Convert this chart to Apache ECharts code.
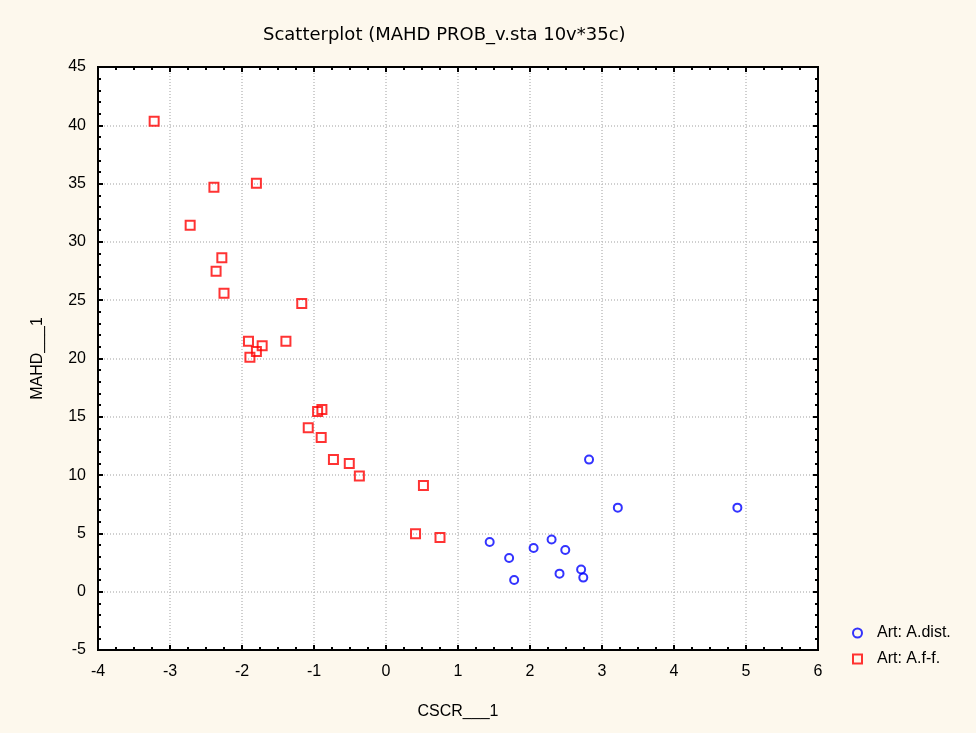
<!DOCTYPE html>
<html>
<head>
<meta charset="utf-8">
<script src="https://cdn.jsdelivr.net/npm/echarts@6/dist/echarts.min.js"></script>
<style>
  html, body { margin: 0; padding: 0; background: #fdf8ed; }
  #chart { width: 976px; height: 733px; }
</style>
</head>
<body>
<div id="chart"></div>
<script>
// Art: A.dist. (blue circles)  [CSCR___1, MAHD___1]
const distPoints = [
  [2.82, 11.33], [3.22, 7.21], [4.88, 7.21], [1.44, 4.26],
  [1.71, 2.89], [1.78, 1.00], [2.05, 3.75], [2.30, 4.47],
  [2.49, 3.58], [2.41, 1.55], [2.71, 1.90], [2.74, 1.21]
];

// Art: A.f-f. (red squares)
const ffPoints = [
  [-3.22, 40.34], [-2.39, 34.68], [-1.80, 35.03], [-2.72, 31.42],
  [-2.28, 28.65], [-2.36, 27.48], [-2.25, 25.59], [-1.17, 24.71],
  [-1.91, 21.48], [-1.72, 21.10], [-1.39, 21.48], [-1.80, 20.59],
  [-1.89, 20.10], [-0.89, 15.62], [-0.95, 15.45], [-1.08, 14.07],
  [-0.90, 13.22], [-0.73, 11.33], [-0.51, 10.99], [-0.37, 9.92],
  [0.52, 9.10], [0.41, 4.98], [0.75, 4.64]
];

const xRange = [-4, 6];
const yRange = [-5, 45];

const chart = echarts.init(document.getElementById('chart'));

const labelFont = { color: '#000', fontFamily: 'Liberation Sans', fontSize: 16 };

function frameAxis(pos, range, interval, split) {
  return {
    type: 'value',
    position: pos,
    min: range[0],
    max: range[1],
    interval: interval,
    axisLine: { show: true, onZero: false, lineStyle: { color: '#000', width: 2 } },
    axisTick: { show: true, inside: true, length: 5, lineStyle: { color: '#000', width: 2 } },
    minorTick: { show: true, splitNumber: split, length: 3, lineStyle: { color: '#000', width: 2 } },
    axisLabel: { show: false },
    splitLine: { show: false }
  };
}

let options = {
  backgroundColor: '#fdf8ed',
  animation: false,
  title: {
    text: 'Scatterplot (MAHD PROB_v.sta 10v*35c)',
    left: 258,
    top: 21,
    textStyle: { color: '#000', fontFamily: 'DejaVu Sans', fontSize: 18, fontWeight: 'normal' }
  },
  grid: {
    left: 98, top: 67, right: 158, bottom: 83,
    show: true,
    backgroundColor: '#fff',
    borderColor: '#000',
    borderWidth: 2
  },
  legend: {
    orient: 'vertical',
    left: 847,
    top: 620,
    itemWidth: 9,
    itemHeight: 9,
    itemGap: 10,
    textStyle: { color: '#000', fontFamily: 'Liberation Sans', fontSize: 16, padding: [0, 0, 0, 10] },
    data: ['Art: A.dist.', 'Art: A.f-f.']
  },
  xAxis: [
    {
      type: 'value',
      min: xRange[0],
      max: xRange[1],
      interval: 1,
      name: 'CSCR___1',
      nameLocation: 'middle',
      nameGap: 54,
      nameTextStyle: labelFont,
      axisLine: { show: true, onZero: false, lineStyle: { color: '#000', width: 2 } },
      axisTick: { show: true, inside: true, length: 5, lineStyle: { color: '#000', width: 2 } },
      minorTick: { show: true, splitNumber: 4, length: 3, lineStyle: { color: '#000', width: 2 } },
      axisLabel: Object.assign({ margin: 14 }, labelFont),
      splitLine: { show: true, lineStyle: { color: '#c0c0c0', type: [1, 2], width: 1.5 } }
    },
    frameAxis('top', xRange, 1, 4)
  ],
  yAxis: [
    {
      type: 'value',
      min: yRange[0],
      max: yRange[1],
      interval: 5,
      name: 'MAHD___1',
      nameLocation: 'middle',
      nameGap: 52,
      nameTextStyle: labelFont,
      axisLine: { show: true, onZero: false, lineStyle: { color: '#000', width: 2 } },
      axisTick: { show: true, inside: true, length: 5, lineStyle: { color: '#000', width: 2 } },
      minorTick: { show: true, splitNumber: 5, length: 3, lineStyle: { color: '#000', width: 2 } },
      axisLabel: Object.assign({ margin: 12 }, labelFont),
      splitLine: { show: true, lineStyle: { color: '#c0c0c0', type: [1, 2], width: 1.5 } }
    },
    frameAxis('right', yRange, 5, 5)
  ],
  series: [
    {
      name: 'Art: A.dist.',
      type: 'scatter',
      symbol: 'circle',
      symbolSize: 8,
      itemStyle: { color: 'rgba(0,0,0,0)', borderColor: '#0000ff', borderWidth: 2 },
      data: distPoints
    },
    {
      name: 'Art: A.f-f.',
      type: 'scatter',
      symbol: 'rect',
      symbolSize: 9,
      itemStyle: { color: 'rgba(0,0,0,0)', borderColor: '#ff0000', borderWidth: 2 },
      data: ffPoints
    }
  ]
};

chart.setOption(options);
</script>
</body>
</html>
